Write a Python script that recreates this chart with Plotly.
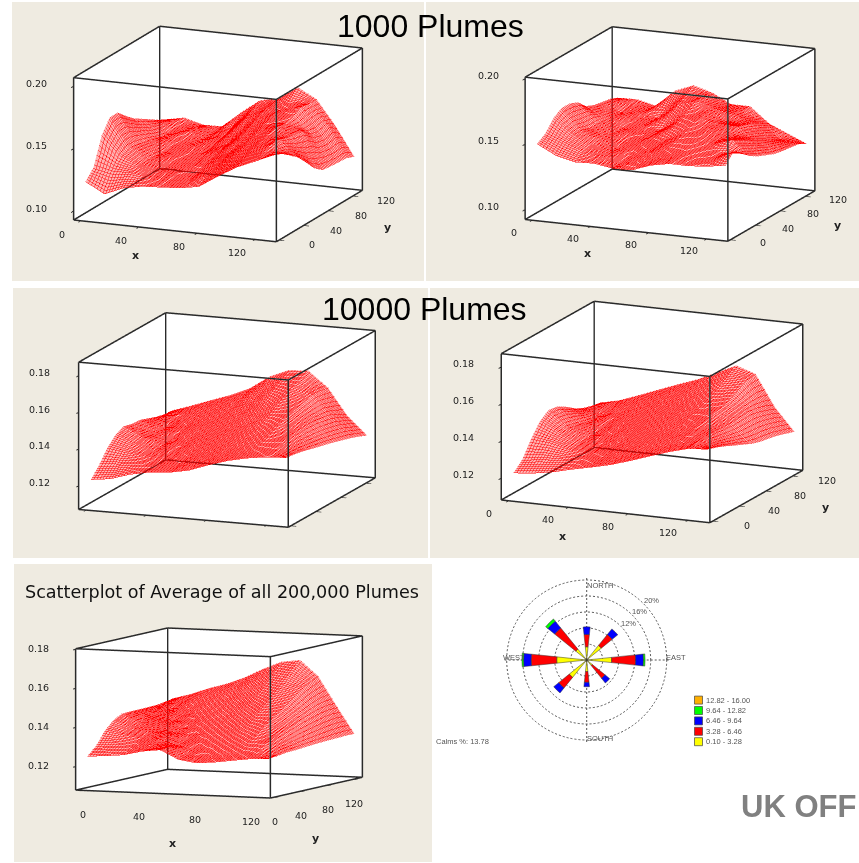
import math
import plotly.graph_objects as go

W, H = 859, 863

# ---------- data ----------
x_nodes = [1, 14, 27, 40, 53, 66, 79, 92, 105, 118, 131]
y_nodes = [1, 14, 27, 40, 53, 66, 79, 92, 105, 118, 131]
axis_ticks = [0, 40, 80, 120]
z_ticks_1000 = [0.10, 0.15, 0.20]
z_ticks_avg = [0.12, 0.14, 0.16, 0.18]

# Estimated plume values, in units of 0.0001; one row per y node
z_1000_a = [
 [1228,1145,1209,1239,1248,1258,1286,1384,1473,1538,1606],
 [1304,1279,1287,1264,1262,1274,1327,1415,1500,1568,1576],
 [1519,1372,1309,1274,1277,1288,1360,1448,1531,1596,1522],
 [1626,1406,1315,1278,1295,1318,1388,1485,1562,1600,1467],
 [1627,1396,1311,1295,1305,1339,1414,1521,1588,1570,1387],
 [1562,1380,1301,1314,1318,1363,1462,1556,1604,1554,1304],
 [1504,1359,1312,1329,1324,1383,1510,1582,1594,1541,1252],
 [1462,1333,1333,1328,1342,1431,1547,1603,1611,1476,1243],
 [1419,1327,1355,1323,1358,1494,1579,1609,1648,1452,1237],
 [1376,1349,1348,1325,1393,1536,1597,1642,1637,1480,1233],
 [1341,1374,1332,1336,1465,1577,1611,1714,1633,1436,1205],
]
z_1000_b = [
 [1495,1421,1387,1393,1370,1372,1424,1452,1451,1462,1486],
 [1537,1480,1425,1405,1371,1404,1438,1467,1470,1485,1558],
 [1618,1514,1437,1406,1390,1428,1461,1485,1493,1498,1503],
 [1660,1514,1446,1400,1419,1440,1494,1509,1510,1560,1448],
 [1659,1490,1443,1411,1437,1460,1516,1529,1517,1524,1411],
 [1633,1490,1436,1436,1446,1511,1544,1540,1525,1488,1384],
 [1566,1483,1435,1451,1450,1544,1570,1542,1535,1449,1357],
 [1539,1475,1456,1455,1514,1576,1574,1526,1515,1417,1344],
 [1527,1463,1470,1450,1568,1613,1571,1537,1490,1384,1335],
 [1514,1478,1468,1506,1605,1614,1550,1529,1454,1350,1326],
 [1488,1493,1458,1589,1646,1604,1531,1532,1415,1354,1291],
]
z_10000_a = [
 [1227,1241,1274,1295,1303,1323,1361,1394,1417,1432,1437],
 [1281,1291,1304,1306,1313,1342,1380,1411,1433,1447,1430],
 [1349,1332,1322,1313,1328,1364,1401,1429,1456,1464,1420],
 [1394,1355,1328,1323,1349,1388,1421,1451,1480,1472,1408],
 [1417,1366,1330,1337,1372,1409,1442,1477,1503,1474,1395],
 [1405,1358,1333,1356,1394,1430,1464,1508,1523,1475,1384],
 [1402,1353,1347,1379,1416,1452,1495,1538,1536,1472,1371],
 [1385,1346,1364,1401,1438,1477,1530,1565,1549,1463,1357],
 [1368,1355,1386,1424,1461,1508,1569,1590,1563,1452,1343],
 [1355,1373,1409,1446,1486,1548,1600,1613,1558,1429,1326],
 [1352,1389,1428,1465,1511,1584,1628,1633,1548,1403,1307],
]
z_10000_b = [
 [1223,1233,1251,1277,1300,1325,1358,1394,1429,1458,1465],
 [1270,1286,1291,1297,1313,1339,1374,1411,1444,1465,1449],
 [1353,1343,1318,1311,1327,1357,1395,1431,1462,1471,1429],
 [1421,1372,1326,1319,1341,1377,1415,1450,1476,1468,1406],
 [1456,1376,1329,1331,1360,1398,1436,1469,1488,1463,1384],
 [1450,1364,1329,1345,1380,1419,1456,1487,1499,1460,1362],
 [1422,1352,1335,1363,1401,1440,1476,1503,1510,1463,1347],
 [1387,1342,1349,1383,1422,1461,1495,1522,1528,1466,1338],
 [1362,1341,1365,1403,1444,1482,1515,1548,1554,1456,1327],
 [1347,1352,1385,1425,1466,1502,1539,1585,1580,1439,1312],
 [1339,1364,1403,1444,1484,1522,1570,1621,1585,1416,1296],
]
z_200000 = [
 [1251,1257,1266,1288,1299,1254,1239,1247,1260,1272,1276],
 [1294,1301,1301,1313,1305,1266,1264,1277,1292,1301,1280],
 [1360,1344,1332,1331,1301,1287,1297,1313,1331,1335,1287],
 [1405,1370,1354,1341,1313,1317,1333,1352,1370,1355,1289],
 [1428,1387,1366,1342,1337,1352,1371,1395,1410,1373,1292],
 [1431,1397,1376,1358,1370,1389,1412,1439,1442,1391,1296],
 [1431,1403,1382,1386,1407,1428,1458,1484,1475,1408,1299],
 [1432,1410,1402,1422,1445,1471,1506,1527,1509,1423,1301],
 [1433,1420,1434,1461,1485,1520,1557,1573,1544,1437,1303],
 [1438,1445,1473,1500,1530,1572,1609,1624,1571,1446,1305],
 [1448,1475,1509,1536,1573,1620,1659,1671,1592,1445,1304],
]

# Wind rose: percent of time per direction and speed class
rose_dirs = [0, 45, 90, 135, 180, 225, 270, 315]
rose_classes = ['0.10 - 3.28', '3.28 - 6.46', '6.46 - 9.64', '9.64 - 12.82', '12.82 - 16.00']
rose_0_10 = [3.3, 4.7, 6.25, 1.8, 2.9, 5.6, 7.5, 3.5]
rose_3_28 = [3.1, 3.5, 6.0, 4.1, 2.7, 3.4, 6.4, 6.8]
rose_6_46 = [1.9, 1.8, 1.95, 1.5, 1.1, 1.6, 1.9, 2.2]
rose_9_64 = [0, 0, 0.4, 0, 0, 0, 0.4, 0.7]
rose_12_82 = [0, 0, 0, 0, 0, 0, 0, 0]
rose_colors = ['#ffff00', '#ff0000', '#0000ff', '#00ff00', '#ffb000']

# ---------- panel layout (view geometry and label offsets, in pixels) ----------
panels = [
 dict(z=z_1000_a, FL=(72,221), xv=(205,22), yv=(87,-52), zh=144, zr=(.0928,.2072), ticks=z_ticks_1000, hw=215,
      sx=(-18,13), sy=(32,4.5), sz=(-37,-3), tx=(-39,24), ty=(68,11)),
 dict(z=z_1000_b, FL=(523,220), xv=(205,22), yv=(88,-51), zh=144, zr=(.0924,.2015), ticks=z_ticks_1000, hw=185,
      sx=(-17,12), sy=(32,3.5), sz=(-36,-3), tx=(-38,23), ty=(66,10)),
 dict(z=z_10000_a, FL=(77,510), xv=(212,18), yv=(88,-50), zh=149, zr=(.107,.1876), ticks=z_ticks_avg, hw=220,
      sx=(-17,12), sy=(33,2.5), sz=(-39,-3), tx=(-39,23), ty=(69,9)),
 dict(z=z_10000_b, FL=(499,501), xv=(211,23), yv=(94,-53), zh=148, zr=(.1082,.1875), ticks=z_ticks_avg, hw=205,
      sx=(-19,12), sy=(34,4), sz=(-37,-4), tx=(-42,25), ty=(69,11)),
 dict(z=z_200000, FL=(74,791), xv=(197,8), yv=(93,-21), zh=143, zr=(.1079,.1805), ticks=z_ticks_avg, hw=218,
      sx=(1,24), sy=(1,23.5), sz=(-37,-1), tx=(0,49), ty=(-1,51)),
]
RNG = (-5, 135)
K, L, SH = 131, 2, 260

fig = go.Figure()
shapes, ann = [], []

def rect(x0, y0, x1, y1, c, lw=0):
    shapes.append(dict(type='rect', xref='paper', yref='paper', x0=x0/W, x1=x1/W, y0=1-y0/H, y1=1-y1/H,
                       fillcolor=c, line_width=lw, line_color='#444', layer='below'))

def text(x, y, t, size, color='#000', family='Liberation Sans', anchor='center'):
    ann.append(dict(xref='paper', yref='paper', x=x/W, y=1-y/H, text=t, showarrow=False, xanchor=anchor,
                    yanchor='middle', font=dict(size=size, color=color, family=family)))

beige = '#EFEBE1'
rect(12, 2, 424, 281, beige); rect(426, 2, 859, 281, beige)
rect(13, 288, 428, 558, beige); rect(430, 288, 859, 558, beige)
rect(14, 564, 432, 862, beige)

lay = {}
for i, p in enumerate(panels, 1):
    xv, yv = p['xv'], p['yv']
    r1 = xv[1]/xv[0]; r2 = -yv[1]/yv[0]
    el = math.asin(math.sqrt(r1*r2)); az = -math.atan(math.sqrt(r2/r1))
    a = xv[0]/abs(math.sin(az)); b = yv[0]/math.cos(az); c = p['zh']/math.cos(el)
    cx = p['FL'][0]+(xv[0]+yv[0])/2; cy = p['FL'][1]+(xv[1]+yv[1])/2-p['zh']/2
    hw = p['hw']
    z = [[v/10000 for v in row] for row in p['z']]
    fig.add_trace(go.Surface(x=x_nodes, y=y_nodes, z=z, scene=f'scene{i}', showscale=False, opacity=.3,
        colorscale=[[0, '#ff0000'], [1, '#ff0000']],
        lighting=dict(ambient=1, diffuse=0, specular=0, roughness=1, fresnel=0),
        contours=dict(x=dict(show=True, start=1, end=131, size=2, color='#ff0000', width=1),
                      y=dict(show=True, start=1, end=131, size=2, color='#ff0000', width=1))))
    r0, r9 = RNG; z0, z9 = p['zr']
    dr = .25; dz = (z9-z0)*.002
    R0, R9, Z0, Z9 = r0+dr, r9-dr, z0+dz, z9-dz
    ex, ey, ez = [], [], []
    for A, B in [((R0,R0),(R9,R0)), ((R9,R0),(R9,R9)), ((R9,R9),(R0,R9)), ((R0,R9),(R0,R0))]:
        ex += [A[0], B[0], None, A[0], B[0], None, A[0], A[0], None]
        ey += [A[1], B[1], None, A[1], B[1], None, A[1], A[1], None]
        ez += [Z0, Z0, None, Z9, Z9, None, Z0, Z9, None]
    fig.add_trace(go.Scatter3d(x=ex, y=ey, z=ez, mode='lines', line=dict(color='#2a2a2a', width=3),
                               scene=f'scene{i}', hoverinfo='skip'))
    ax = dict(showline=False, showgrid=False, zeroline=False, showbackground=True, backgroundcolor='white',
              ticks='outside', ticklen=5, tickwidth=2, tickcolor='#222', showticklabels=False, showspikes=False)
    tf = dict(family='DejaVu Sans', size=9.5, color='#222')
    sa = []
    for t in axis_ticks:
        sa.append(dict(x=t, y=r0, z=z0, text=str(t), showarrow=False, xshift=p['sx'][0], yshift=-p['sx'][1], font=tf))
        sa.append(dict(x=r9, y=t, z=z0, text=str(t), showarrow=False, xshift=p['sy'][0], yshift=-p['sy'][1], font=tf))
    for t in p['ticks']:
        sa.append(dict(x=r0, y=r0, z=t, text=f'{t:.2f}', showarrow=False, xshift=p['sz'][0], yshift=-p['sz'][1], font=tf))
    sa.append(dict(x=65, y=r0, z=z0, text='<b>x</b>', showarrow=False, xshift=p['tx'][0], yshift=-p['tx'][1], font=dict(tf, size=11)))
    sa.append(dict(x=r9, y=65, z=z0, text='<b>y</b>', showarrow=False, xshift=p['ty'][0], yshift=-p['ty'][1], font=dict(tf, size=11)))
    lay[f'scene{i}'] = dict(
        domain=dict(x=[(cx-hw)/W, (cx+hw)/W], y=[1-(cy+SH/2)/H, 1-(cy-SH/2)/H]),
        xaxis=dict(ax, range=list(RNG), tickvals=axis_ticks, title=dict(text='')),
        yaxis=dict(ax, range=list(RNG), tickvals=axis_ticks, title=dict(text='')),
        zaxis=dict(ax, range=list(p['zr']), tickvals=p['ticks'], title=dict(text='')),
        annotations=sa, aspectmode='manual', aspectratio=dict(x=a/K, y=b/K, z=c/K),
        camera=dict(projection=dict(type='orthographic'), up=dict(x=0, y=0, z=1), center=dict(x=0, y=0, z=0),
                    eye=dict(x=L*math.cos(el)*math.cos(az), y=L*math.cos(el)*math.sin(az), z=L*math.sin(el))))

text(430, 26, '1000 Plumes', 32)
text(424, 309, '10000 Plumes', 32)
text(222, 592, 'Scatterplot of Average of all 200,000 Plumes', 17.6, '#111', 'DejaVu Sans')
text(858, 806, '<b>UK OFF</b>', 31, '#808080', anchor='right')

for nm, col, v in zip(rose_classes, rose_colors, [rose_0_10, rose_3_28, rose_6_46, rose_9_64, rose_12_82]):
    fig.add_trace(go.Barpolar(r=v, theta=rose_dirs, width=[12]*8, name=nm,
                              marker=dict(color=col, line=dict(color='#333', width=.5))))
cx, cy, R = 586.7, 660, 82
lay['polar'] = dict(domain=dict(x=[(cx-R)/W, (cx+R)/W], y=[1-(cy+R)/H, 1-(cy-R)/H]), bgcolor='white', barmode='stack',
    radialaxis=dict(range=[0, 20.5], tickvals=[4, 8, 12, 16, 20], showticklabels=False, ticks='', showline=False,
                    gridcolor='#555', griddash='2px,2px', gridwidth=1),
    angularaxis=dict(direction='clockwise', rotation=90, tickvals=[0, 90, 180, 270], showticklabels=False, ticks='',
                     showline=False, gridcolor='#555', griddash='2px,2px', gridwidth=1))
gr = '#555'
text(600, 585, 'NORTH', 7.5, gr); text(676, 657, 'EAST', 7.5, gr)
text(514, 657, 'WEST', 7.5, gr); text(600, 738, 'SOUTH', 7.5, gr)
text(651, 600, '20%', 7.5, gr); text(639, 611, '16%', 7.5, gr); text(628, 623, '12%', 7.5, gr)
text(434, 741, 'Calms %: 13.78', 7.5, gr, anchor='left')
for k, (nm, col) in enumerate(zip(rose_classes, rose_colors)):
    yy = 741.7-k*10.4
    rect(694.5, yy-4, 702.5, yy+4, col, .7)
    text(703.5, yy, nm, 7.5, gr, anchor='left')

fig.update_layout(width=W, height=H, margin=dict(l=0, r=0, t=0, b=0), paper_bgcolor='white',
                  shapes=shapes, annotations=ann, showlegend=False, **lay)
fig.write_html('out.html', config=dict(displayModeBar=False),
               post_script="document.body.style.margin='0';document.body.style.overflow='hidden';")
